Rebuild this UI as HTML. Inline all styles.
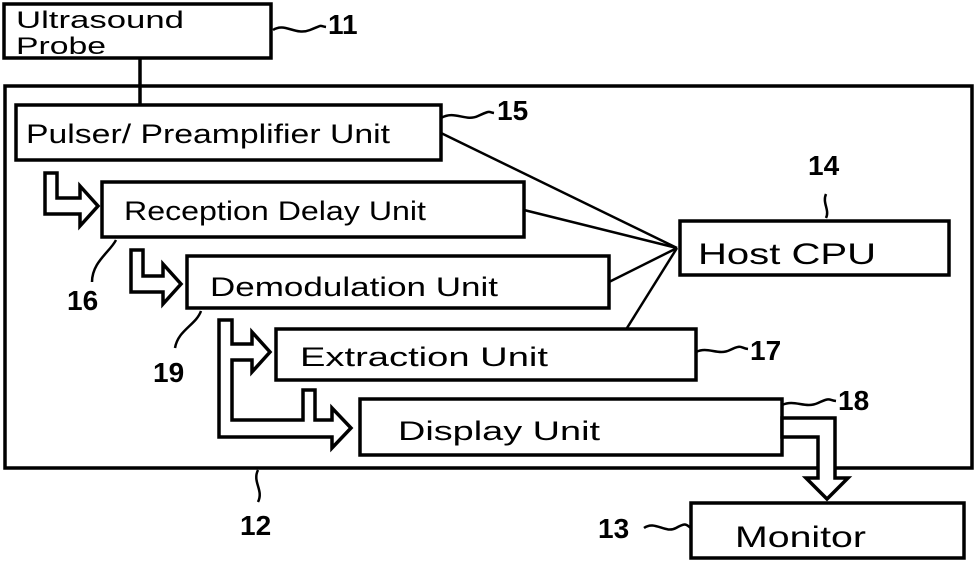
<!DOCTYPE html>
<html><head><meta charset="utf-8"><style>
html,body{margin:0;padding:0;background:#fff;}
svg{display:block;}
.t{font-family:"Liberation Sans",sans-serif;font-size:27px;fill:#000;}
.n{font-family:"Liberation Sans",sans-serif;font-size:28px;font-weight:bold;fill:#000;}
</style></head><body>
<svg width="975" height="562" viewBox="0 0 975 562" xmlns="http://www.w3.org/2000/svg">
<g fill="none" stroke="#000" stroke-width="3.5">
<rect x="4" y="4" width="267" height="54"/>
<rect x="5" y="86" width="967" height="382"/>
<line x1="140" y1="58" x2="140" y2="104"/>
<rect x="16" y="105" width="425" height="55"/>
<rect x="102" y="182" width="422" height="55"/>
<rect x="187" y="256" width="422" height="52"/>
<rect x="276" y="329" width="420" height="51"/>
<rect x="360" y="399" width="422" height="56"/>
<rect x="680" y="221" width="269" height="54"/>
<rect x="691" y="503" width="273" height="55"/>
</g>
<g fill="none" stroke="#000" stroke-width="2.5">
<line x1="441" y1="133" x2="677" y2="248"/>
<line x1="524" y1="210" x2="677" y2="248"/>
<line x1="609" y1="282" x2="677" y2="248"/>
<line x1="627" y1="328" x2="677" y2="248"/>
<path d="M273 30 C285 22,295 36,310 30 S318 26,326 27"/>
<path d="M441 118 C455 110,465 122,478 116 S488 112,494 113"/>
<path d="M826 194 C822 203,830 210,826 218"/>
<path d="M116 240 C110 252,92 262,92 282"/>
<path d="M201 311 C196 325,178 330,175 348"/>
<path d="M696 352 C708 346,718 356,730 350 S740 348,748 349"/>
<path d="M782 405 C795 399,805 409,818 403 S828 400,836 401"/>
<path d="M258 470 C252 482,264 490,258 502"/>
<path d="M644 528 C655 520,665 534,676 528 S686 525,691 528"/>
</g>
<g fill="#fff" stroke="#000" stroke-width="3.5" stroke-linejoin="miter">
<polygon points="45,173 57,173 57,198 80,198 80,186 98,206 80,226 80,214 45,214"/>
<polygon points="131,250 143,250 143,276 163,276 163,264 181,284 163,304 163,292 131,292"/>
<polygon points="219,320 232,320 232,344 252,344 252,332 270,352 252,372 252,360 232,360 232,420 303,420 303,390 315,390 315,420 332,420 332,408 351,428 332,448 332,437 219,437"/>
<polygon points="782,418 835,418 835,478 848,478 827,499 806,478 818,478 818,437 782,437"/>
</g>
<text class="t" x="16" y="28" style="font-size:24px" textLength="168" lengthAdjust="spacingAndGlyphs">Ultrasound</text>
<text class="t" x="16" y="54" style="font-size:24px" textLength="90" lengthAdjust="spacingAndGlyphs">Probe</text>
<text class="t" x="26" y="143" style="font-size:27px" textLength="364" lengthAdjust="spacingAndGlyphs">Pulser/ Preamplifier Unit</text>
<text class="t" x="124" y="220" textLength="302" lengthAdjust="spacingAndGlyphs">Reception Delay Unit</text>
<text class="t" x="210" y="296" textLength="288" lengthAdjust="spacingAndGlyphs">Demodulation Unit</text>
<text class="t" x="300" y="366" textLength="248" lengthAdjust="spacingAndGlyphs">Extraction Unit</text>
<text class="t" x="398" y="440" textLength="202" lengthAdjust="spacingAndGlyphs">Display Unit</text>
<text class="t" x="698" y="264" style="font-size:30px" textLength="178" lengthAdjust="spacingAndGlyphs">Host CPU</text>
<text class="t" x="735" y="547" style="font-size:30px" textLength="131" lengthAdjust="spacingAndGlyphs">Monitor</text>
<text class="n" x="328" y="34">11</text>
<text class="n" x="497" y="120">15</text>
<text class="n" x="808" y="175">14</text>
<text class="n" x="67" y="310">16</text>
<text class="n" x="153" y="382">19</text>
<text class="n" x="750" y="360">17</text>
<text class="n" x="838" y="410">18</text>
<text class="n" x="240" y="535">12</text>
<text class="n" x="598" y="538">13</text>
</svg>
</body></html>
